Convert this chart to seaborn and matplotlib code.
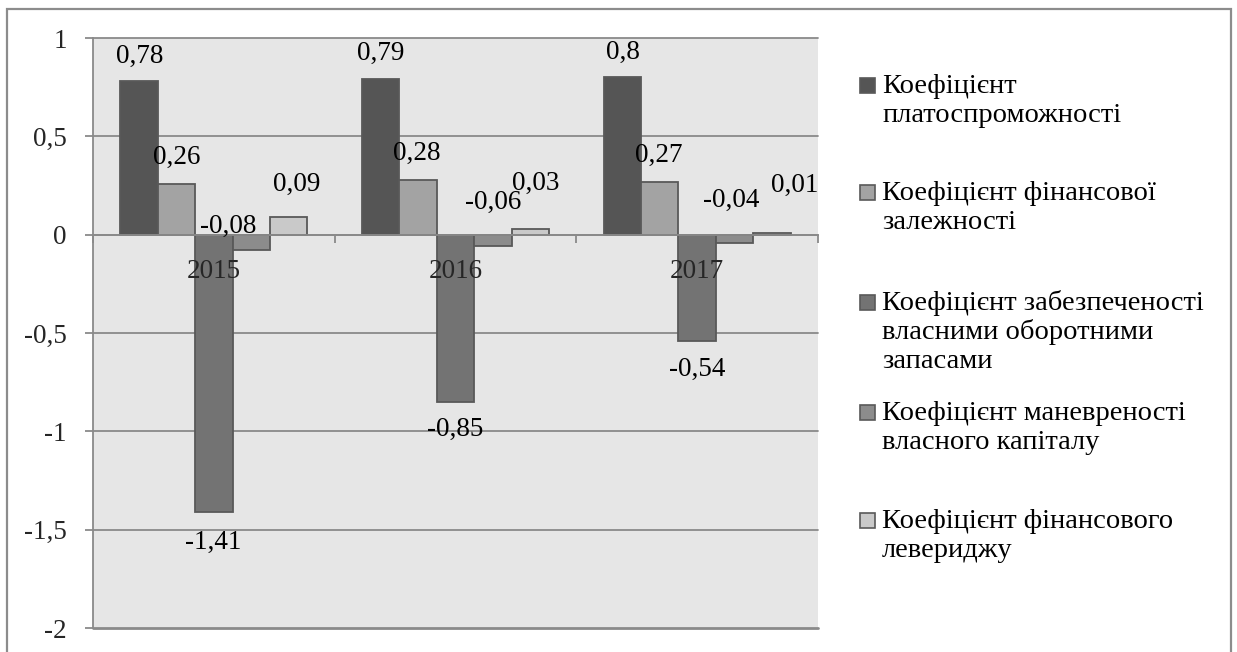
import numpy as np
import pandas as pd
import matplotlib
matplotlib.use("Agg")
import matplotlib.pyplot as plt
from matplotlib.patches import Rectangle
from matplotlib.ticker import FixedLocator, FuncFormatter
import seaborn as sns

# ---- data -------------------------------------------------------------
years = ["2015", "2016", "2017"]
series = [
    "Коефіцієнт\nплатоспроможності",
    "Коефіцієнт фінансової\nзалежності",
    "Коефіцієнт забезпеченості\nвласними оборотними\nзапасами",
    "Коефіцієнт маневреності\nвласного капіталу",
    "Коефіцієнт фінансового\nлевериджу",
]
solvency = [0.78, 0.79, 0.80]
fin_dependence = [0.26, 0.28, 0.27]
own_working_capital = [-1.41, -0.85, -0.54]
equity_agility = [-0.08, -0.06, -0.04]
fin_leverage = [0.09, 0.03, 0.01]
y_ticks = [1, 0.5, 0, -0.5, -1, -1.5, -2]

# ---- styling ----------------------------------------------------------
colors = ["#555555", "#a3a3a3", "#737373", "#8c8c8c", "#c9c9c9"]
edge = "#595959"
grid_col = "#8a8a8a"
# label nudges (pixels) per series / year, relative to the bar end
label_nudge = [
    [(1, 25), (0, 26), (0, 25)],
    [(0, 26), (-1, 26), (-1, 26)],
    [(-1, -30), (0, -28), (0, -29)],
    [(-23, 24), (0, 44), (-3, 42)],
    [(8, 33), (5, 45), (23, 47)],
]

sns.set_theme(style="white")
plt.rcParams["font.family"] = ["Liberation Serif", "DejaVu Serif"]
plt.rcParams["text.color"] = "black"

values = [solvency, fin_dependence, own_working_capital, equity_agility, fin_leverage]
df = pd.DataFrame(
    [(y, s, v[i]) for s, v in zip(series, values) for i, y in enumerate(years)],
    columns=["year", "series", "value"],
)

W, H = 1237, 652
PX = 0.72  # points per pixel at 100 dpi
fig = plt.figure(figsize=(W / 100, H / 100), dpi=100)
fig.patch.set_facecolor("white")

# outer chart frame
fig.add_artist(Rectangle((7 / W, -0.05), (1231 - 7) / W, (652 - 9) / H + 0.05,
                         transform=fig.transFigure, fill=False,
                         edgecolor="#8c8c8c", lw=1.6))

L, R, T, B = 93, 818, 38, 628
ax = fig.add_axes([L / W, (H - B) / H, (R - L) / W, (B - T) / H])
ax.set_facecolor("#e6e6e6")

# horizontal gridlines, kept underneath the bars
for t in y_ticks:
    ax.axhline(t, color=grid_col, lw=2.0 if t == -2 else 1.3, zorder=0.5,
               clip_on=False)

sns.barplot(data=df, x="year", y="value", hue="series", order=years,
            hue_order=series, palette=colors, saturation=1, width=0.773,
            edgecolor=edge, linewidth=1.3, legend=False, ax=ax)

ax.set_xlim(-0.5, 2.5)
ax.set_ylim(-2, 1)
ax.set_xlabel("")
ax.set_ylabel("")
ax.grid(False)

# y axis
ax.yaxis.set_major_locator(FixedLocator(y_ticks))
ax.yaxis.set_major_formatter(FuncFormatter(lambda v, p: f"{v:g}".replace(".", ",")))
ax.tick_params(axis="y", which="major", length=8 * PX, width=1.3, color=grid_col,
               pad=18 * PX, labelsize=19.5, direction="out", left=True)

# x axis crossing at zero, ticks at category boundaries
for s in ["top", "right"]:
    ax.spines[s].set_visible(False)
ax.spines["left"].set_color(grid_col)
ax.spines["left"].set_linewidth(1.3)
ax.spines["bottom"].set_position(("data", 0))
ax.spines["bottom"].set_color(grid_col)
ax.spines["bottom"].set_linewidth(1.3)
ax.xaxis.set_major_locator(FixedLocator([-0.5, 0.5, 1.5, 2.5]))
ax.xaxis.set_major_formatter(FuncFormatter(lambda v, p: ""))
ax.xaxis.set_minor_locator(FixedLocator([0, 1, 2]))
ax.xaxis.set_minor_formatter(FuncFormatter(lambda v, p: years[int(round(v))]))
ax.tick_params(axis="x", which="major", length=8 * PX, width=1.3, color=grid_col,
               direction="out", bottom=True)
ax.tick_params(axis="x", which="minor", length=0, pad=24 * PX, labelsize=19.5)
ax.xaxis.set_zorder(3)
ax.yaxis.set_zorder(3)

# value labels
for si, cont in enumerate(ax.containers):
    for yi, bar in enumerate(cont):
        v = values[si][yi]
        cx = bar.get_x() + bar.get_width() / 2
        dx, dy = label_nudge[si][yi]
        ax.annotate(f"{v:g}".replace(".", ","), xy=(cx, v), xytext=(dx, dy),
                    textcoords="offset pixels", ha="center", va="center",
                    fontsize=19.5, color="black", zorder=5)

# legend on the right: swatch aligned with the first text line
swatch_top = [78, 185, 295, 405, 513]
line_step = 29
for name, col, top in zip(series, colors, swatch_top):
    sz = 15
    fig.add_artist(Rectangle((860 / W, (H - top - sz) / H), sz / W, sz / H,
                             transform=fig.transFigure, facecolor=col,
                             edgecolor=edge, lw=1.2))
    for k, line in enumerate(name.split("\n")):
        base = top + sz + k * line_step
        fig.text(882 / W, (H - base) / H, line, ha="left", va="baseline",
                 fontsize=20.5)

fig.savefig("out.png", dpi=100)
